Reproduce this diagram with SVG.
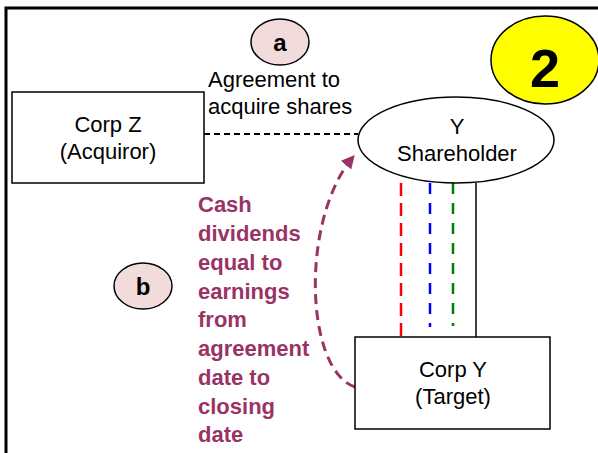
<svg xmlns="http://www.w3.org/2000/svg" width="598" height="453" viewBox="0 0 598 453">
<style>
.t{font-family:"Liberation Sans",Arial,sans-serif;font-size:22px;fill:#000;text-anchor:middle}
.s{font-family:"Liberation Sans",Arial,sans-serif;font-size:22px;fill:#000}
.lbl{font-family:"Liberation Sans",Arial,sans-serif;font-size:24px;font-weight:bold;fill:#000;text-anchor:middle}
.p{font-family:"Liberation Sans",Arial,sans-serif;font-size:22px;font-weight:bold;fill:#993366}
.box{fill:#fff;stroke:#000;stroke-width:1.5}
.tag{fill:#f2dcdb;stroke:#000;stroke-width:1.5}
</style>
<defs>
<marker id="ah" viewBox="0 0 10 10" refX="8" refY="5" markerWidth="4.5" markerHeight="4.5" orient="auto" markerUnits="strokeWidth">
<path d="M0,0 L10,5 L0,10 z" fill="#993366"/>
</marker>
</defs>
<rect width="598" height="453" fill="#fff"/>
<path d="M6,453 V8 H598" fill="none" stroke="#000" stroke-width="3"/>
<g id="connectors">
<line x1="204" y1="134" x2="358" y2="134" stroke="#000" stroke-width="2" stroke-dasharray="6,4"/>
<line x1="401" y1="183" x2="401" y2="337" stroke="#ff0000" stroke-width="2.5" stroke-dasharray="13,7"/>
<line x1="430" y1="183" x2="430" y2="327" stroke="#0000ff" stroke-width="2.5" stroke-dasharray="11,9"/>
<line x1="453" y1="183" x2="453" y2="326" stroke="#008000" stroke-width="2.5" stroke-dasharray="11,9"/>
<line x1="476" y1="183" x2="476" y2="337" stroke="#000" stroke-width="1.5"/>
<path d="M355,387 C305,370 300,220 353,157" fill="none" stroke="#993366" stroke-width="3" stroke-dasharray="10,6" marker-end="url(#ah)"/>
</g>
<g id="corpZ">
<rect class="box" x="12" y="92" width="192" height="91"/>
<text class="t" x="108" y="132">Corp Z</text>
<text class="t" x="108" y="159">(Acquiror)</text>
</g>
<g id="yShareholder">
<ellipse class="box" cx="456" cy="140" rx="98" ry="43"/>
<text class="t" x="457" y="134">Y</text>
<text class="t" x="457" y="161">Shareholder</text>
</g>
<g id="corpY">
<rect class="box" x="355" y="337" width="195" height="92"/>
<text class="t" x="453" y="377">Corp Y</text>
<text class="t" x="453" y="404">(Target)</text>
</g>
<g id="labelA">
<ellipse class="tag" cx="280" cy="42" rx="29" ry="23"/>
<text class="lbl" x="280" y="51">a</text>
</g>
<g id="agreementText">
<text class="s" x="208" y="87">Agreement to</text>
<text class="s" x="208" y="114">acquire shares</text>
</g>
<g id="labelB">
<ellipse class="tag" cx="143" cy="286" rx="29" ry="23"/>
<text class="lbl" x="143" y="295">b</text>
</g>
<g id="dividendText">
<text class="p" x="198" y="212">Cash</text>
<text class="p" x="198" y="241">dividends</text>
<text class="p" x="198" y="270">equal to</text>
<text class="p" x="198" y="299">earnings</text>
<text class="p" x="198" y="327">from</text>
<text class="p" x="198" y="356">agreement</text>
<text class="p" x="198" y="385">date to</text>
<text class="p" x="198" y="414">closing</text>
<text class="p" x="198" y="442">date</text>
</g>
<g id="badge2">
<ellipse cx="545" cy="60" rx="54" ry="44" fill="#ffff00" stroke="#000" stroke-width="1.5"/>
<text x="545" y="87" text-anchor="middle" font-family="Liberation Sans, Arial, sans-serif" font-size="54" font-weight="bold">2</text>
</g>
</svg>
